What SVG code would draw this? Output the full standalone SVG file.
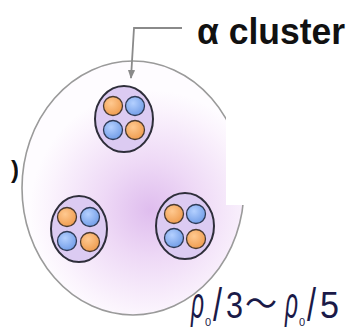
<svg xmlns="http://www.w3.org/2000/svg" width="352" height="332" viewBox="0 0 352 332">
  <style>
    .nucleus { stroke: #9a9a9a; stroke-width: 1.6; }
    .shell { fill: #dccbf2; stroke: #2e2e3a; stroke-width: 2; }
    .p { fill: url(#gOrange); stroke: #4a3a30; stroke-width: 1.3; }
    .n { fill: url(#gBlue); stroke: #2e3a55; stroke-width: 1.3; }
    .conn { fill: none; stroke: #8a8a8a; stroke-width: 1.8; }
    .label { font-family: "Liberation Sans", "DejaVu Sans", sans-serif; font-weight: bold; fill: #111; }
    .dens { font-family: "Liberation Sans", "DejaVu Sans", sans-serif; fill: #1a1a48; }
  </style>
  <defs>
    <radialGradient id="gNucleus" cx="150" cy="210" r="120" gradientUnits="userSpaceOnUse">
      <stop offset="0" stop-color="#dfbdee"/>
      <stop offset="0.4" stop-color="#eed9f6"/>
      <stop offset="0.85" stop-color="#fbf4fd"/>
      <stop offset="1" stop-color="#fefcff"/>
    </radialGradient>
    <radialGradient id="gOrange" cx="0.4" cy="0.35" r="0.7">
      <stop offset="0" stop-color="#ffc990"/>
      <stop offset="1" stop-color="#ee9a4c"/>
    </radialGradient>
    <radialGradient id="gBlue" cx="0.4" cy="0.35" r="0.7">
      <stop offset="0" stop-color="#b4d0ff"/>
      <stop offset="1" stop-color="#6f9be6"/>
    </radialGradient>
    <marker id="arrow" viewBox="0 0 10 10" refX="9" refY="5" markerWidth="5" markerHeight="5" orient="auto">
      <path d="M0,1 L10,5 L0,9 Z" fill="#8a8a8a"/>
    </marker>
    <clipPath id="edgeClip">
      <rect x="0" y="150" width="18" height="40"/>
    </clipPath>
  </defs>

  <!-- nucleus body -->
  <g id="nucleus">
    <ellipse class="nucleus" cx="133" cy="188" rx="111" ry="127" fill="url(#gNucleus)"/>
    <rect x="226" y="64" width="126" height="141" fill="#ffffff"/>
  </g>

  <!-- partial glyph at left edge -->
  <text x="11" y="178" class="label" font-size="24" clip-path="url(#edgeClip)" fill="#10183a">)</text>

  <!-- alpha clusters -->
  <g id="cluster-top">
    <ellipse class="shell" cx="124" cy="119" rx="29" ry="33"/>
    <circle class="p" cx="113" cy="106" r="9.5"/>
    <circle class="n" cx="135" cy="106" r="9.5"/>
    <circle class="n" cx="113" cy="130" r="9.5"/>
    <circle class="p" cx="135" cy="130" r="9.5"/>
  </g>
  <g id="cluster-left">
    <ellipse class="shell" cx="79" cy="229" rx="28" ry="33"/>
    <circle class="p" cx="67" cy="217" r="9.5"/>
    <circle class="n" cx="90" cy="217" r="9.5"/>
    <circle class="n" cx="67" cy="241" r="9.5"/>
    <circle class="p" cx="90" cy="242" r="9.5"/>
  </g>
  <g id="cluster-right">
    <ellipse class="shell" cx="185" cy="226" rx="29" ry="33"/>
    <circle class="p" cx="174" cy="214" r="9.5"/>
    <circle class="n" cx="196" cy="214" r="9.5"/>
    <circle class="n" cx="174" cy="238" r="9.5"/>
    <circle class="p" cx="196" cy="239" r="9.5"/>
  </g>

  <!-- label and leader -->
  <g id="connectors">
    <path class="conn" d="M182,28 L134,28 L131,78" marker-end="url(#arrow)"/>
  </g>
  <g id="label-alpha">
    <text x="197" y="44" class="label" font-size="37" textLength="148" lengthAdjust="spacingAndGlyphs">α cluster</text>
  </g>

  <!-- density label: one text run, per-glyph placement -->
  <g id="label-density">
    <text class="dens" font-size="37"><tspan x="191" y="318" font-size="44" font-style="italic" textLength="13" lengthAdjust="spacingAndGlyphs">ρ</tspan><tspan x="205" y="326" font-size="11">0</tspan><tspan x="213" y="321" font-size="46" textLength="9" lengthAdjust="spacingAndGlyphs">/</tspan><tspan x="226" y="318" textLength="17" lengthAdjust="spacingAndGlyphs">3</tspan><tspan x="245" y="316" font-size="34" font-family="'Noto Sans CJK JP', sans-serif" textLength="32" lengthAdjust="spacingAndGlyphs">〜</tspan><tspan x="285" y="318" font-size="44" font-style="italic" textLength="13" lengthAdjust="spacingAndGlyphs">ρ</tspan><tspan x="299" y="326" font-size="11">0</tspan><tspan x="307" y="321" font-size="46" textLength="9" lengthAdjust="spacingAndGlyphs">/</tspan><tspan x="320" y="318" textLength="19" lengthAdjust="spacingAndGlyphs">5</tspan></text>
  </g>
</svg>
